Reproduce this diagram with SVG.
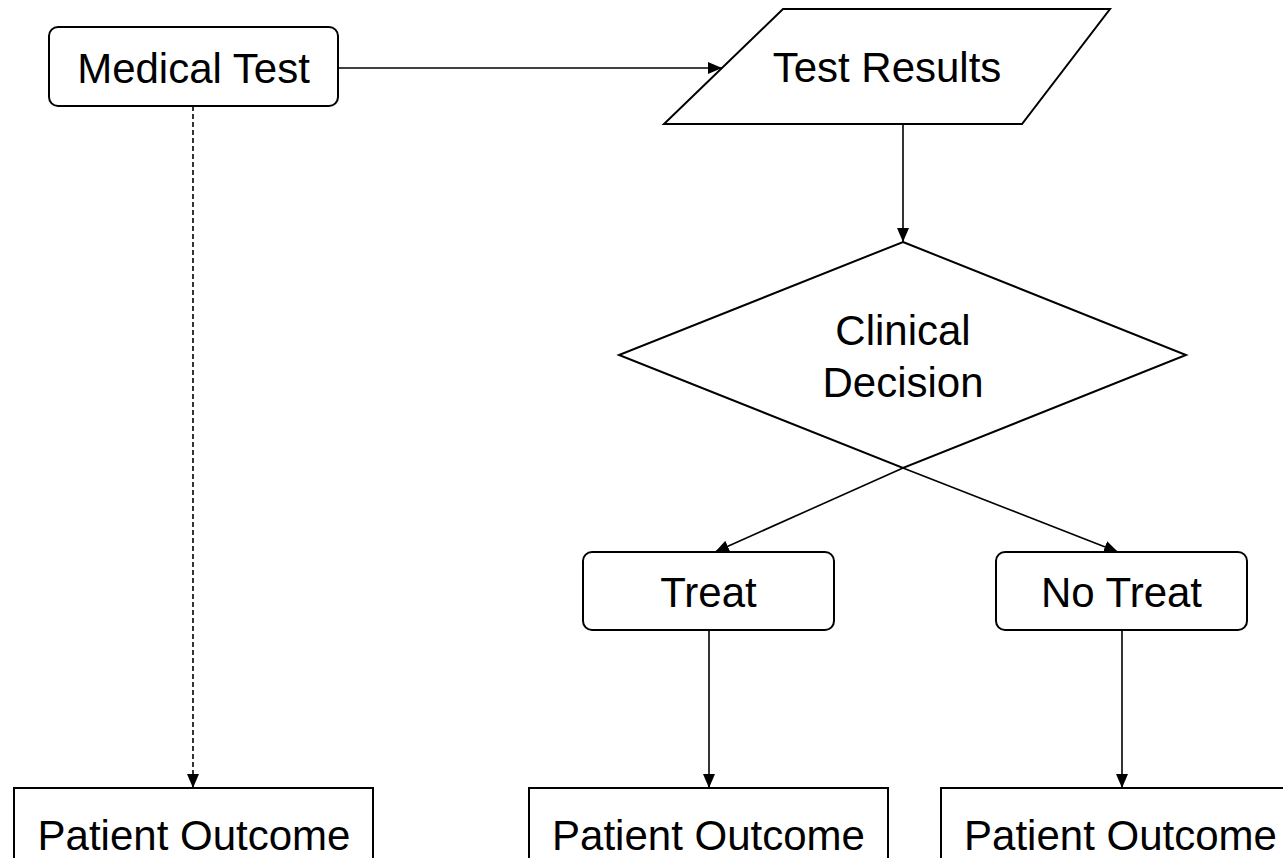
<svg xmlns="http://www.w3.org/2000/svg" width="1283" height="858" viewBox="0 0 1283 858">
  <defs>
    <marker id="arrow" viewBox="0 0 14 12" refX="14" refY="6" markerWidth="14" markerHeight="12" markerUnits="userSpaceOnUse" orient="auto">
      <path d="M0,0 L14,6 L0,12 Z" fill="#000"/>
    </marker>
    <style>
      .shape { fill: #fff; stroke: #000; stroke-width: 2; }
      .label { font-family: "Liberation Sans", Arial, sans-serif; font-size: 42px; fill: #000; text-anchor: middle; }
      .edge { fill: none; stroke: #000; stroke-width: 1.6; marker-end: url(#arrow); }
      .dashed { stroke-dasharray: 5 3; }
    </style>
  </defs>
  <rect width="1283" height="858" fill="#fff"/>

  <g id="connectors">
    <line class="edge" x1="338" y1="68" x2="722" y2="68"/>
    <line class="edge dashed" x1="193" y1="106" x2="193" y2="788"/>
    <line class="edge" x1="903" y1="124" x2="903" y2="242"/>
    <line class="edge" x1="903" y1="468" x2="715" y2="552"/>
    <line class="edge" x1="903" y1="468" x2="1118" y2="552"/>
    <line class="edge" x1="709" y1="630" x2="709" y2="788"/>
    <line class="edge" x1="1122" y1="630" x2="1122" y2="788"/>
  </g>

  <g id="medical-test">
    <rect class="shape" x="49" y="27" width="289" height="79" rx="9"/>
    <text class="label" x="193.5" y="83">Medical Test</text>
  </g>

  <g id="test-results">
    <polygon class="shape" points="783,9 1110,9 1022,124 664,124"/>
    <text class="label" x="887" y="82">Test Results</text>
  </g>

  <g id="clinical-decision">
    <polygon class="shape" points="903,242 1186,355 903,468 619,355" style="fill:none"/>
    <text class="label" x="903" y="345">Clinical</text>
    <text class="label" x="903" y="397">Decision</text>
  </g>

  <g id="treat">
    <rect class="shape" x="583" y="552" width="251" height="78" rx="9"/>
    <text class="label" x="708.5" y="607">Treat</text>
  </g>

  <g id="no-treat">
    <rect class="shape" x="996" y="552" width="251" height="78" rx="9"/>
    <text class="label" x="1121.5" y="607">No Treat</text>
  </g>

  <g id="outcome-untested">
    <rect class="shape" x="14" y="788" width="359" height="90"/>
    <text class="label" x="194" y="850">Patient Outcome</text>
  </g>

  <g id="outcome-treat">
    <rect class="shape" x="529" y="788" width="359" height="90"/>
    <text class="label" x="708.5" y="850">Patient Outcome</text>
  </g>

  <g id="outcome-no-treat">
    <rect class="shape" x="941" y="788" width="359" height="90"/>
    <text class="label" x="1120.5" y="850">Patient Outcome</text>
  </g>
</svg>
